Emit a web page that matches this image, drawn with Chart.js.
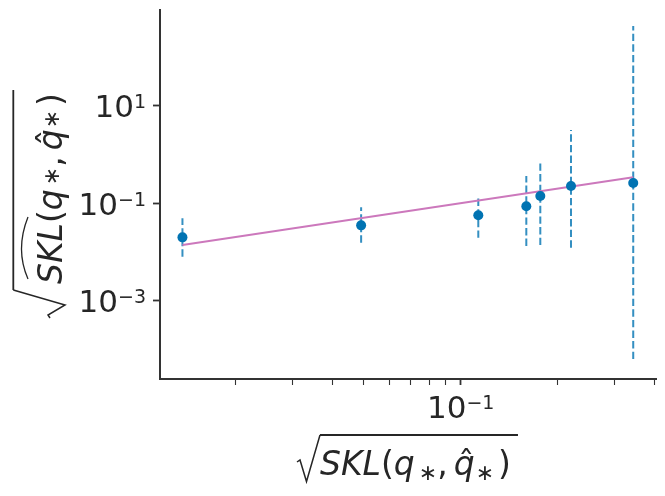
<!DOCTYPE html>
<html>
<head>
<meta charset="utf-8">
<script src="https://cdn.jsdelivr.net/npm/chart.js@4.4.1/dist/chart.umd.min.js"></script>
<style>
  html, body { margin: 0; padding: 0; background: #fff; }
  #wrap { width: 665px; height: 496px; }
</style>
</head>
<body>
<div id="wrap"><canvas id="chart"></canvas></div>
<script>
// values
const xVals = [0.0137, 0.0491, 0.1134, 0.1598, 0.1766, 0.2199, 0.343];
const yVals = [0.0200, 0.0353, 0.0567, 0.0868, 0.141, 0.2267, 0.261];
const yLow  = [0.0080, 0.0155, 0.0196, 0.0133, 0.0139, 0.01225, 0.000063];
const yHigh = [0.0492, 0.0828, 0.133, 0.364, 0.73, 3.2, 440];

// power law fit, drawn between first and last x
const fitX = [0.0137, 0.343];
const fitY = [0.0139, 0.342];

const xTicks = [0.02, 0.03, 0.04, 0.05, 0.06, 0.07, 0.08, 0.09, 0.1, 0.2, 0.3, 0.4];
const xTickLabels = [{ value: 0.1, exp: '\u22121' }];
const yTicks = [1e-3, 1e-1, 1e1];
const yTickLabels = [
    { value: 1e-3, exp: '\u22123' },
    { value: 1e-1, exp: '\u22121' },
    { value: 1e1, exp: '1' }
];

const BLUE = '#0173b2';
const PINK = '#cc78bc';
const AXIS = '#333333';

const errorSets = xVals.map((x, i) => ({
    data: [{ x: x, y: yLow[i] }, { x: x, y: yHigh[i] }],
    showLine: true,
    borderColor: 'rgba(1,115,178,0.8)',
    borderWidth: 2,
    borderDash: [7.4, 3.2],
    pointRadius: 0,
    order: 2
}));

function powLabel(ctx, exp, x, y, align) {
    ctx.font = '31px "DejaVu Sans"';
    const wb = ctx.measureText('10').width;
    ctx.font = '19px "DejaVu Sans"';
    const we = ctx.measureText(exp).width;
    const total = wb + we;
    let x0 = align === 'center' ? x - total / 2 : x - total;
    ctx.textAlign = 'left';
    ctx.textBaseline = 'alphabetic';
    ctx.font = '31px "DejaVu Sans"';
    ctx.fillText('10', x0, y);
    ctx.font = '19px "DejaVu Sans"';
    ctx.fillText(exp, x0 + wb, y - 9);
}

// lays out SKL(q*, q^*) starting at local (0,0) on the baseline
function mathBody(ctx, starDy, wideHat) {
    const IT = 'italic 33px "DejaVu Sans"';
    const RM = '33px "DejaVu Sans"';
    const SM = '22px "DejaVu Sans"';
    let x = 0;
    function put(t, font, dy) {
        ctx.font = font;
        ctx.fillText(t, x, dy || 0);
        const w = ctx.measureText(t).width;
        x += w;
        return w;
    }
    const sklStart = x;
    put('SKL', IT);
    const sklEnd = x;
    put('(', RM);
    put('q', IT);
    x += 4;
    put('\u2217', SM, starDy);
    put(',', RM);
    x += 6;
    const qStart = x;
    const qw = put('q', IT);
    ctx.font = RM;
    ctx.textAlign = 'center';
    ctx.fillText('\u02c6', qStart + qw / 2 + 2, 0);
    ctx.textAlign = 'left';
    x += 1;
    put('\u2217', SM, starDy);
    x += 4;
    put(')', RM);
    if (wideHat) {
        ctx.beginPath();
        ctx.lineWidth = 1.3;
        ctx.moveTo(sklStart + 5, -34);
        ctx.quadraticCurveTo((sklStart + sklEnd) / 2 + 4, -47, sklEnd + 6, -34);
        ctx.stroke();
    }
    return x;
}

const labelPlugin = {
    id: 'labels',
    afterDraw(chart) {
        const ctx = chart.ctx;
        const xs = chart.scales.x;
        const ys = chart.scales.y;
        ctx.save();
        ctx.fillStyle = '#262626';
        ctx.strokeStyle = '#262626';

        xTickLabels.forEach(t => powLabel(ctx, t.exp, xs.getPixelForValue(t.value), 418, 'center'));
        yTickLabels.forEach(t => powLabel(ctx, t.exp, 146, ys.getPixelForValue(t.value) + 11.5, 'right'));

        // x axis title
        ctx.save();
        ctx.translate(320, 474.5);
        const wx = mathBody(ctx, 5, false);
        ctx.beginPath();
        ctx.lineWidth = 1.5;
        ctx.moveTo(-23, -12.5);
        ctx.lineTo(-20, -14.5);
        ctx.lineTo(-13.5, 7);
        ctx.lineTo(0, -39.5);
        ctx.stroke();
        ctx.beginPath();
        ctx.lineWidth = 1.8;
        ctx.moveTo(0, -39.5);
        ctx.lineTo(wx + 7, -39.5);
        ctx.stroke();
        ctx.restore();

        // y axis title, rotated
        ctx.save();
        ctx.translate(62, 284);
        ctx.rotate(-Math.PI / 2);
        const wy = mathBody(ctx, -3, true);
        ctx.beginPath();
        ctx.lineWidth = 1.5;
        ctx.moveTo(-34, -12);
        ctx.lineTo(-31, -14);
        ctx.lineTo(-21, 3);
        ctx.lineTo(-6, -48.7);
        ctx.stroke();
        ctx.beginPath();
        ctx.lineWidth = 1.8;
        ctx.moveTo(-6, -48.7);
        ctx.lineTo(wy + 3, -48.7);
        ctx.stroke();
        ctx.restore();

        ctx.restore();
    }
};

new Chart(
    document.getElementById('chart'),
    {
        type: 'scatter',
        data: {
            datasets: [
                {
                    data: xVals.map((x, i) => ({ x: x, y: yVals[i] })),
                    backgroundColor: BLUE,
                    borderWidth: 0,
                    pointRadius: 5,
                    order: 0
                },
                {
                    data: fitX.map((x, i) => ({ x: x, y: fitY[i] })),
                    showLine: true,
                    borderColor: PINK,
                    borderWidth: 2,
                    pointRadius: 0,
                    order: 1
                },
                ...errorSets
            ]
        },
        options: {
            responsive: true,
            maintainAspectRatio: false,
            animation: false,
            layout: { padding: { left: 0, right: 9, top: 10, bottom: 0 } },
            plugins: {
                legend: { display: false },
                tooltip: { enabled: false }
            },
            scales: {
                x: {
                    type: 'logarithmic',
                    min: 0.01167,
                    max: 0.4036,
                    bounds: 'data',
                    border: { display: true, color: AXIS, width: 2 },
                    grid: {
                        drawOnChartArea: false,
                        drawTicks: true,
                        tickLength: 6,
                        color: AXIS,
                        tickWidth: c => (c.tick && c.tick.value === 0.1 ? 1.8 : 1.1)
                    },
                    ticks: { display: false, autoSkip: false },
                    afterBuildTicks: s => { s.ticks = xTicks.map(v => ({ value: v })); },
                    afterFit: s => { s.height = 117; }
                },
                y: {
                    type: 'logarithmic',
                    min: 2.46e-5,
                    max: 938,
                    bounds: 'data',
                    border: { display: true, color: AXIS, width: 2 },
                    grid: {
                        drawOnChartArea: false,
                        drawTicks: true,
                        tickLength: 7,
                        color: AXIS,
                        tickWidth: 1.8
                    },
                    ticks: { display: false, autoSkip: false },
                    afterBuildTicks: s => { s.ticks = yTicks.map(v => ({ value: v })); },
                    afterFit: s => { s.width = 160; }
                }
            }
        },
        plugins: [labelPlugin]
    }
);
</script>
</body>
</html>
